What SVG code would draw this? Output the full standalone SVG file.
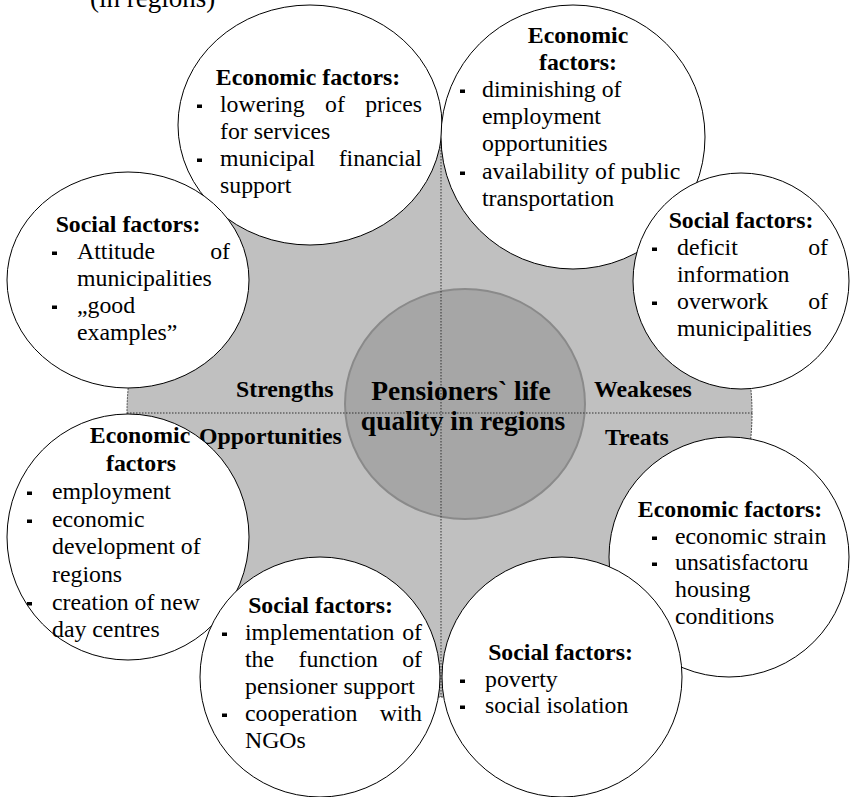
<svg xmlns="http://www.w3.org/2000/svg" width="850" height="797" viewBox="0 0 850 797">
<style>
.t{font-family:"Liberation Serif","Times New Roman",serif;font-size:23.8px;fill:#000}
.b{font-weight:bold}
.m{text-anchor:middle}
.c{fill:#fff;stroke:#000;stroke-width:1}
.div{stroke:#333;stroke-width:1;stroke-dasharray:1.5 1.5;fill:none}
</style>
<defs>
<rect id="blt" width="5" height="3.5" fill="#000"/>
</defs>
<rect width="850" height="797" fill="#fff"/>
<text class="t" x="90" y="7" style="font-size:27px">(in regions)</text>

<g id="background">
<ellipse cx="439.5" cy="413" rx="312.5" ry="284" fill="#c0c0c0" stroke="#444" stroke-width="1" stroke-dasharray="2 1"/>
</g>

<g id="labels">
<text class="t b" x="236" y="397">Strengths</text>
<text class="t b" x="594" y="397">Weakeses</text>
<text class="t b" x="199" y="444">Opportunities</text>
<text class="t b" x="605" y="445">Treats</text>
</g>

<g id="center">
<ellipse cx="465" cy="404" rx="120" ry="115" fill="#a6a6a6" stroke="#8a8a8a" stroke-width="2"/>
</g>

<g id="connectors">
<line class="div" x1="441" y1="129" x2="441" y2="697"/>
<line class="div" x1="127" y1="413" x2="752" y2="413"/>
</g>

<g id="center-text">
<text class="t b m" x="461" y="400" style="font-size:27.5px">Pensioners` life</text>
<text class="t b m" x="463" y="430" style="font-size:27.5px">quality in regions</text>
</g>

<g id="strengths-economic">
<ellipse class="c" cx="310" cy="125" rx="132" ry="120"/>
<text class="t b m" x="308" y="85">Economic factors:</text>
<use href="#blt" x="197" y="104.5"/>
<text class="t" y="112"><tspan x="220">lowering</tspan><tspan x="325">of</tspan><tspan x="365.2">prices</tspan></text>
<text class="t" x="220" y="139">for services</text>
<use href="#blt" x="197" y="158.5"/>
<text class="t" y="166"><tspan x="220">municipal</tspan><tspan x="338.7">financial</tspan></text>
<text class="t" x="220" y="193">support</text>
</g>

<g id="weaknesses-economic">
<circle class="c" cx="573" cy="137" r="132"/>
<text class="t b m" x="578" y="43">Economic</text>
<text class="t b m" x="578" y="70">factors:</text>
<use href="#blt" x="460" y="89.5"/>
<text class="t" x="482" y="97">diminishing of</text>
<text class="t" x="482" y="124">employment</text>
<text class="t" x="482" y="151">opportunities</text>
<use href="#blt" x="460" y="171.5"/>
<text class="t" x="482" y="179">availability of public</text>
<text class="t" x="482" y="206">transportation</text>
</g>

<g id="weaknesses-social">
<circle class="c" cx="741" cy="281" r="108"/>
<text class="t b m" x="741" y="228">Social factors:</text>
<use href="#blt" x="652" y="247.5"/>
<text class="t" y="255"><tspan x="677">deficit</tspan><tspan x="808.2">of</tspan></text>
<text class="t" x="677" y="282">information</text>
<use href="#blt" x="652" y="301.5"/>
<text class="t" y="309"><tspan x="677">overwork</tspan><tspan x="808.2">of</tspan></text>
<text class="t" x="677" y="336">municipalities</text>
</g>

<g id="strengths-social">
<ellipse class="c" cx="128" cy="280" rx="121" ry="108"/>
<text class="t b m" x="128" y="232">Social factors:</text>
<use href="#blt" x="52" y="251.5"/>
<text class="t" y="259"><tspan x="77">Attitude</tspan><tspan x="210.2">of</tspan></text>
<text class="t" x="77" y="286">municipalities</text>
<use href="#blt" x="52" y="305.5"/>
<text class="t" x="77" y="313">„good</text>
<text class="t" x="77" y="340">examples”</text>
</g>

<g id="opportunities-economic">
<ellipse class="c" cx="128" cy="537" rx="121" ry="123"/>
<text class="t b m" x="140" y="443">Economic</text>
<text class="t b m" x="141" y="471">factors</text>
<use href="#blt" x="27" y="491.5"/>
<text class="t" x="52" y="499">employment</text>
<use href="#blt" x="27" y="519.5"/>
<text class="t" x="52" y="527">economic</text>
<text class="t" x="52" y="554">development of</text>
<text class="t" x="52" y="582">regions</text>
<use href="#blt" x="27" y="602"/>
<text class="t" x="52" y="610">creation of new</text>
<text class="t" x="52" y="637">day centres</text>
</g>

<g id="treats-economic">
<circle class="c" cx="729" cy="557" r="120"/>
<text class="t b m" x="730" y="517">Economic factors:</text>
<use href="#blt" x="652" y="536.5"/>
<text class="t" x="675" y="544">economic strain</text>
<use href="#blt" x="652" y="562.5"/>
<text class="t" x="675" y="570">unsatisfactoru</text>
<text class="t" x="675" y="597">housing</text>
<text class="t" x="675" y="624">conditions</text>
</g>

<g id="opportunities-social">
<circle class="c" cx="320" cy="677" r="120"/>
<text class="t b m" x="320.5" y="613">Social factors:</text>
<use href="#blt" x="222" y="632.5"/>
<text class="t" y="640"><tspan x="245">implementation</tspan><tspan x="402.2">of</tspan></text>
<text class="t" y="667"><tspan x="245">the</tspan><tspan x="298.5">function</tspan><tspan x="402.2">of</tspan></text>
<text class="t" x="245" y="694">pensioner support</text>
<use href="#blt" x="222" y="713.5"/>
<text class="t" y="721"><tspan x="245">cooperation</tspan><tspan x="379.7">with</tspan></text>
<text class="t" x="245" y="748">NGOs</text>
</g>

<g id="treats-social">
<circle class="c" cx="562" cy="677" r="120"/>
<text class="t b m" x="560.5" y="660">Social factors:</text>
<use href="#blt" x="460" y="679.5"/>
<text class="t" x="485" y="687">poverty</text>
<use href="#blt" x="460" y="705.5"/>
<text class="t" x="485" y="713">social isolation</text>
</g>
</svg>
